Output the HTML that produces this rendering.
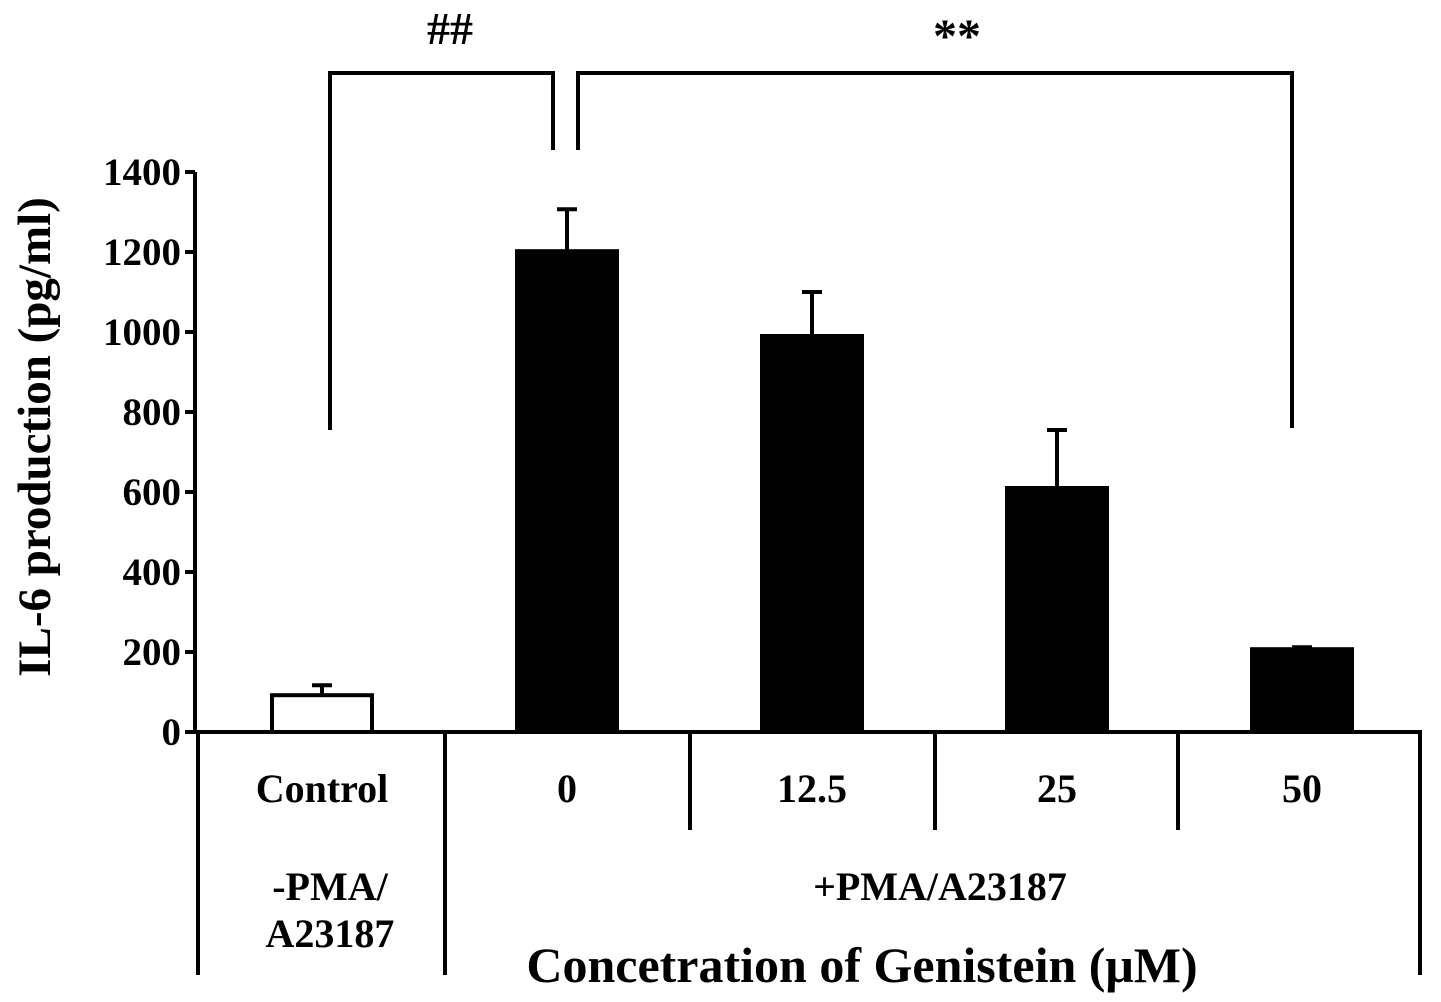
<!DOCTYPE html>
<html><head><meta charset="utf-8"><style>
html,body{margin:0;padding:0;background:#fff;}
svg{display:block;}
text{font-family:"Liberation Serif",serif;font-weight:bold;fill:#000;}
</style></head><body>
<svg id="chart" width="1441" height="1002" viewBox="0 0 1441 1002">
<g id="axes"></g>
<g id="bars"></g>
<g id="brackets">
 <polyline points="330,430 330,73 553,73 553,150" fill="none" stroke="#000" stroke-width="4"/>
 <polyline points="578,150 578,73 1292,73 1292,428" fill="none" stroke="#000" stroke-width="4"/>
 <text x="450" y="44" font-size="46" text-anchor="middle">##</text>
 <text x="957" y="52" font-size="48" text-anchor="middle">**</text>
</g>
<text transform="translate(50,437) rotate(-90)" font-size="47" text-anchor="middle">IL-6 production (pg/ml)</text>
<text x="330" y="900" font-size="40" text-anchor="middle">-PMA/</text>
<text x="330" y="947" font-size="40" text-anchor="middle">A23187</text>
<text x="940" y="900" font-size="40" text-anchor="middle">+PMA/A23187</text>
<text x="862" y="982" font-size="50" text-anchor="middle">Concetration of Genistein (μM)</text>
</svg>
<script>
const categories = ["Control","0","12.5","25","50"];
const values = [92, 1202, 990, 610, 207];
const errors = [25, 105, 110, 145, 5];
const yTicks = [0,200,400,600,800,1000,1200,1400];
const NS="http://www.w3.org/2000/svg";
const y0=732, yScale=560/1400;
function yPos(v){return y0 - v*yScale;}
function xCenter(i){return 322 + i*245;}
const axes=document.getElementById('axes'), bars=document.getElementById('bars');
function mk(tag,attrs,parent){const e=document.createElementNS(NS,tag);for(const k in attrs)e.setAttribute(k,attrs[k]);parent.appendChild(e);return e;}
let l=mk('line',{x1:195,y1:yPos(1400),x2:195,y2:y0,stroke:'#000','stroke-width':4},axes);


l=mk('line',{x1:193,y1:y0,x2:1422,y2:y0,stroke:'#000','stroke-width':4},axes);


yTicks.forEach(t=>{
 const tk=mk('line',{x1:185,y1:yPos(t),x2:195,y2:yPos(t),stroke:'#000','stroke-width':4},axes);
 
 
 const tx=mk('text',{x:181,y:yPos(t)+13,'font-size':39,'text-anchor':'end'},axes);
 tx.textContent=t;
 
 
});
[[198,975],[445,975],[690,830],[935,830],[1178,830],[1420,975]].forEach(d=>{
 const dv=mk('line',{x1:d[0],y1:y0,x2:d[0],y2:d[1],stroke:'#000','stroke-width':4},axes);
 
 
});
categories.forEach((c,i)=>{
 const cx=xCenter(i);
 const bx=272+i*245;
 const top=yPos(values[i]);
 const eb=mk('line',{x1:bx+50,y1:top,x2:bx+50,y2:yPos(values[i]+errors[i]),stroke:'#000','stroke-width':4},bars);
 
 
 const cap=mk('line',{x1:bx+40,y1:yPos(values[i]+errors[i]),x2:bx+60,y2:yPos(values[i]+errors[i]),stroke:'#000','stroke-width':4},bars);
 
 
 const r=mk('rect',{x:bx,y:top,width:100,height:y0-top,fill:i===0?'#fff':'#000',stroke:'#000','stroke-width':4},bars);
 
 
 const tx=mk('text',{x:cx,y:802,'font-size':40,'text-anchor':'middle'},axes);
 tx.textContent=c;
 
 
});
</script>
</body></html>
